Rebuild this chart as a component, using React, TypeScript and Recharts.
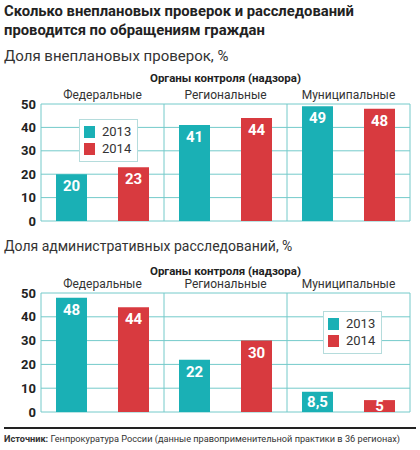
import React from "react";
import {
  BarChart,
  Bar,
  XAxis,
  YAxis,
  CartesianGrid,
  Legend,
  LabelList,
} from "recharts";

const CATEGORIES = ["Федеральные", "Региональные", "Муниципальные"];
const YEARS = ["2013", "2014"];
const CHECKS_2013 = [20, 41, 49];
const CHECKS_2014 = [23, 44, 48];
const INVEST_2013 = [48, 22, 8.5];
const INVEST_2014 = [44, 30, 5];
const Y_TICKS = [0, 10, 20, 30, 40, 50];

const TEAL = "#1ab0b5";
const RED = "#d83a3f";
const GRID = "#74caca";
const FONT = "Roboto, 'Noto Sans', sans-serif";

const checksData = CATEGORIES.map((c, i) => ({
  cat: c,
  y2013: CHECKS_2013[i],
  y2014: CHECKS_2014[i],
}));
const investData = CATEGORIES.map((c, i) => ({
  cat: c,
  y2013: INVEST_2013[i],
  y2014: INVEST_2014[i],
}));

// value label sits near the bar top, centred in very short bars
const BarValue = (props: any) => {
  const { x, y, width, height, value } = props;
  return (
    <text
      x={x + width / 2}
      y={y + Math.min(12, height / 2)}
      textAnchor="middle"
      dominantBaseline="central"
      fill="#fff"
      fontSize={15}
      fontWeight={700}
      fontFamily={FONT}
    >
      {String(value).replace(".", ",")}
    </text>
  );
};

const LegendBox = () => (
  <div
    style={{
      border: "1px solid #b5dcdc",
      background: "#fff",
      padding: "3px 6px 3px 4px",
      fontFamily: FONT,
      fontSize: 13,
      color: "#333",
      lineHeight: "16px",
    }}
  >
    {YEARS.map((y, i) => (
      <div key={y} style={{ display: "flex", alignItems: "center", margin: "1px 0" }}>
        <span
          style={{
            width: 11,
            height: 12,
            background: i === 0 ? TEAL : RED,
            marginRight: 7,
            display: "inline-block",
          }}
        />
        {y}
      </div>
    ))}
  </div>
);

function Panel({
  data,
  height,
  legendLeft,
  legendTop,
}: {
  data: any[];
  height: number;
  legendLeft: number;
  legendTop: number;
}) {
  return (
    <BarChart
      width={420}
      height={height}
      data={data}
      margin={{ top: 0, right: 10, left: 0, bottom: 9 }}
      barCategoryGap={15}
      barGap={31}
    >
      <CartesianGrid
        stroke={GRID}
        strokeWidth={1}
        verticalCoordinatesGenerator={({ offset }: any) => [
          offset.left,
          offset.left + offset.width / 3,
          offset.left + (2 * offset.width) / 3,
          offset.left + offset.width,
        ]}
      />
      <XAxis
        dataKey="cat"
        orientation="top"
        height={18}
        axisLine={false}
        tickLine={false}
        tickSize={0}
        tickMargin={5}
        tick={{ fontSize: 12, fill: "#333", fontFamily: FONT }}
      />
      <YAxis
        width={41}
        domain={[0, 50]}
        ticks={Y_TICKS}
        interval={0}
        axisLine={false}
        tickLine={false}
        tickSize={0}
        tickMargin={5}
        tick={{ fontSize: 13, fontWeight: 700, fill: "#222", fontFamily: FONT }}
      />
      <Legend
        layout="vertical"
        align="center"
        verticalAlign="middle"
        content={() => <LegendBox />}
        wrapperStyle={{ left: legendLeft, top: legendTop, width: "auto" }}
      />
      <Bar dataKey="y2013" fill={TEAL} barSize={31} isAnimationActive={false}>
        <LabelList dataKey="y2013" content={BarValue} />
      </Bar>
      <Bar dataKey="y2014" fill={RED} barSize={31} isAnimationActive={false}>
        <LabelList dataKey="y2014" content={BarValue} />
      </Bar>
    </BarChart>
  );
}

export default function App() {
  const abs = (top: number, extra: React.CSSProperties = {}): React.CSSProperties => ({
    position: "absolute",
    top,
    ...extra,
  });
  return (
    <div
      style={{
        position: "absolute",
        left: 0,
        top: 0,
        width: 420,
        height: 450,
        background: "#fff",
        fontFamily: FONT,
        color: "#222",
      }}
    >
      <div style={abs(2, { left: 4, fontSize: 14.8, fontWeight: 700, lineHeight: "19px", whiteSpace: "nowrap" })}>
        Сколько внеплановых проверок и расследований
        <br />
        проводится по обращениям граждан
      </div>
      <div style={abs(47, { left: 4, fontSize: 15, color: "#333", whiteSpace: "nowrap" })}>
        Доля внеплановых проверок, %
      </div>
      <div style={abs(71, { left: 41, width: 369, textAlign: "center", fontSize: 11.5, fontWeight: 700 })}>
        Органы контроля (надзора)
      </div>
      <div style={abs(86, { left: 0 })}>
        <Panel data={checksData} height={144} legendLeft={79} legendTop={33} />
      </div>

      <div style={abs(238, { left: 4, fontSize: 14, color: "#333", whiteSpace: "nowrap" })}>
        Доля административных расследований, %
      </div>
      <div style={abs(264, { left: 41, width: 369, textAlign: "center", fontSize: 11.5, fontWeight: 700 })}>
        Органы контроля (надзора)
      </div>
      <div style={abs(275, { left: 0 })}>
        <Panel data={investData} height={146} legendLeft={323} legendTop={36} />
      </div>

      <div style={abs(427, { left: 4, width: 412, height: 2, background: "#222" })} />
      <div style={abs(432, { left: 4, fontSize: 9.2, color: "#333", whiteSpace: "nowrap", lineHeight: "14px" })}>
        <b>Источник:</b> Генпрокуратура России (данные правоприменительной практики в 36 регионах)
      </div>
    </div>
  );
}
